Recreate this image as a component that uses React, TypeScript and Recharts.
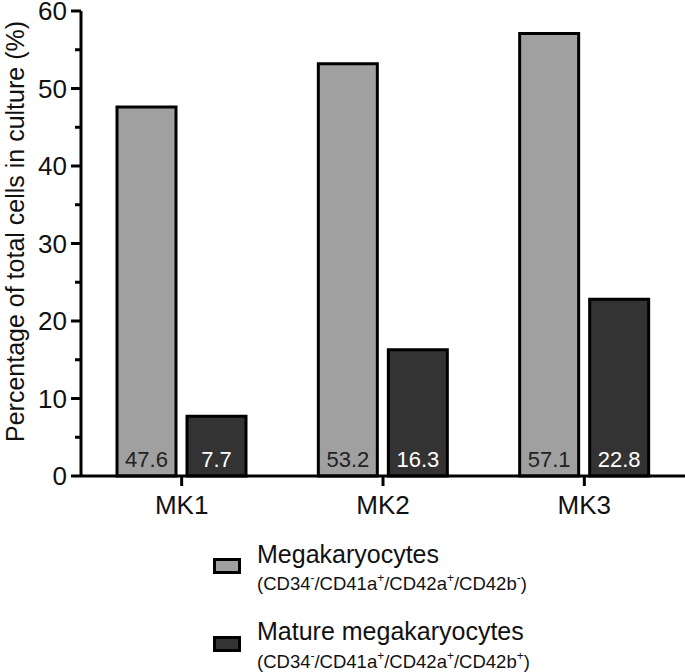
import React from 'react';
import { BarChart, Bar, XAxis, YAxis, LabelList, Label } from 'recharts';

const categories = ['MK1', 'MK2', 'MK3'];
const megakaryocytes = [47.6, 53.2, 57.1];
const matureMegakaryocytes = [7.7, 16.3, 22.8];
const yTicks = [0, 5, 10, 15, 20, 25, 30, 35, 40, 45, 50, 55, 60];
const majorTicks = [0, 10, 20, 30, 40, 50, 60];

const data = categories.map((name, i) => ({
  name,
  mk: megakaryocytes[i],
  mature: matureMegakaryocytes[i],
}));

const FONT = '"Liberation Sans", Arial, Helvetica, sans-serif';

const YTick = (props: any) => {
  const { x, y, payload } = props;
  const major = majorTicks.includes(payload.value);
  return (
    <g>
      <line x1={x - (major ? 10 : 6)} x2={x} y1={y} y2={y} stroke="#000" strokeWidth={3} />
      {major && (
        <text x={x - 14} y={y + 9} textAnchor="end" fontSize={26} fill="#111">
          {payload.value}
        </text>
      )}
    </g>
  );
};

const barLabel = (color: string) => (props: any) => {
  const { x, y, width, height, value } = props;
  return (
    <text x={x + width / 2} y={y + height - 9} textAnchor="middle" fontSize={22} fill={color}>
      {value}
    </text>
  );
};

const Sup = ({ children }: { children: React.ReactNode }) => (
  <span style={{ fontSize: 12, position: 'relative', top: -8 }}>{children}</span>
);

const App: React.FC = () => {
  return (
    <div style={{ position: 'absolute', left: 0, top: 0, width: 685, height: 672, fontFamily: FONT, color: '#111', background: '#fff' }}>
      <BarChart
        width={685}
        height={672}
        data={data}
        margin={{ top: 11, right: 0, left: 0, bottom: 156 }}
        barGap={11}
      >
        <XAxis
          dataKey="name"
          height={40}
          tickSize={10}
          tickMargin={10}
          axisLine={{ stroke: '#000', strokeWidth: 3 }}
          tickLine={{ stroke: '#000', strokeWidth: 3 }}
          tick={{ fontSize: 26, fill: '#111' }}
        />
        <YAxis
          width={81}
          domain={[0, 60]}
          ticks={yTicks}
          interval={0}
          tickSize={0}
          tickMargin={0}
          tickLine={false}
          axisLine={{ stroke: '#000', strokeWidth: 3 }}
          tick={<YTick />}
        >
          <Label
            content={(p: any) => {
              const vb = p.viewBox || { y: 11, height: 465 };
              const cy = vb.y + vb.height / 2 - 12;
              return (
                <text
                  transform={`translate(15, ${cy}) rotate(-90)`}
                  textAnchor="middle"
                  dominantBaseline="central"
                  fontSize={25}
                  fill="#111"
                >
                  Percentage of total cells in culture (%)
                </text>
              );
            }}
          />
        </YAxis>
        <Bar dataKey="mk" fill="#a0a0a0" stroke="#000" strokeWidth={3} barSize={59} isAnimationActive={false}>
          <LabelList dataKey="mk" content={barLabel('#222')} />
        </Bar>
        <Bar dataKey="mature" fill="#333333" stroke="#000" strokeWidth={3} barSize={59} isAnimationActive={false}>
          <LabelList dataKey="mature" content={barLabel('#fff')} />
        </Bar>
      </BarChart>

      {/* legend */}
      <div style={{ position: 'absolute', left: 213, top: 558, width: 28, height: 16, boxSizing: 'border-box', border: '3px solid #000', background: '#a0a0a0' }} />
      <div style={{ position: 'absolute', left: 257, top: 542, fontSize: 25, lineHeight: '25px', whiteSpace: 'nowrap' }}>Megakaryocytes</div>
      <div style={{ position: 'absolute', left: 257, top: 574.5, fontSize: 18.5, lineHeight: '18.5px', whiteSpace: 'nowrap' }}>
        (CD34<Sup>-</Sup>/CD41a<Sup>+</Sup>/CD42a<Sup>+</Sup>/CD42b<Sup>-</Sup>)
      </div>
      <div style={{ position: 'absolute', left: 213, top: 636, width: 28, height: 16, boxSizing: 'border-box', border: '3px solid #000', background: '#333333' }} />
      <div style={{ position: 'absolute', left: 257, top: 619, fontSize: 25, lineHeight: '25px', whiteSpace: 'nowrap' }}>Mature megakaryocytes</div>
      <div style={{ position: 'absolute', left: 257, top: 652.5, fontSize: 18.5, lineHeight: '18.5px', whiteSpace: 'nowrap' }}>
        (CD34<Sup>-</Sup>/CD41a<Sup>+</Sup>/CD42a<Sup>+</Sup>/CD42b<Sup>+</Sup>)
      </div>
    </div>
  );
};

export default App;
